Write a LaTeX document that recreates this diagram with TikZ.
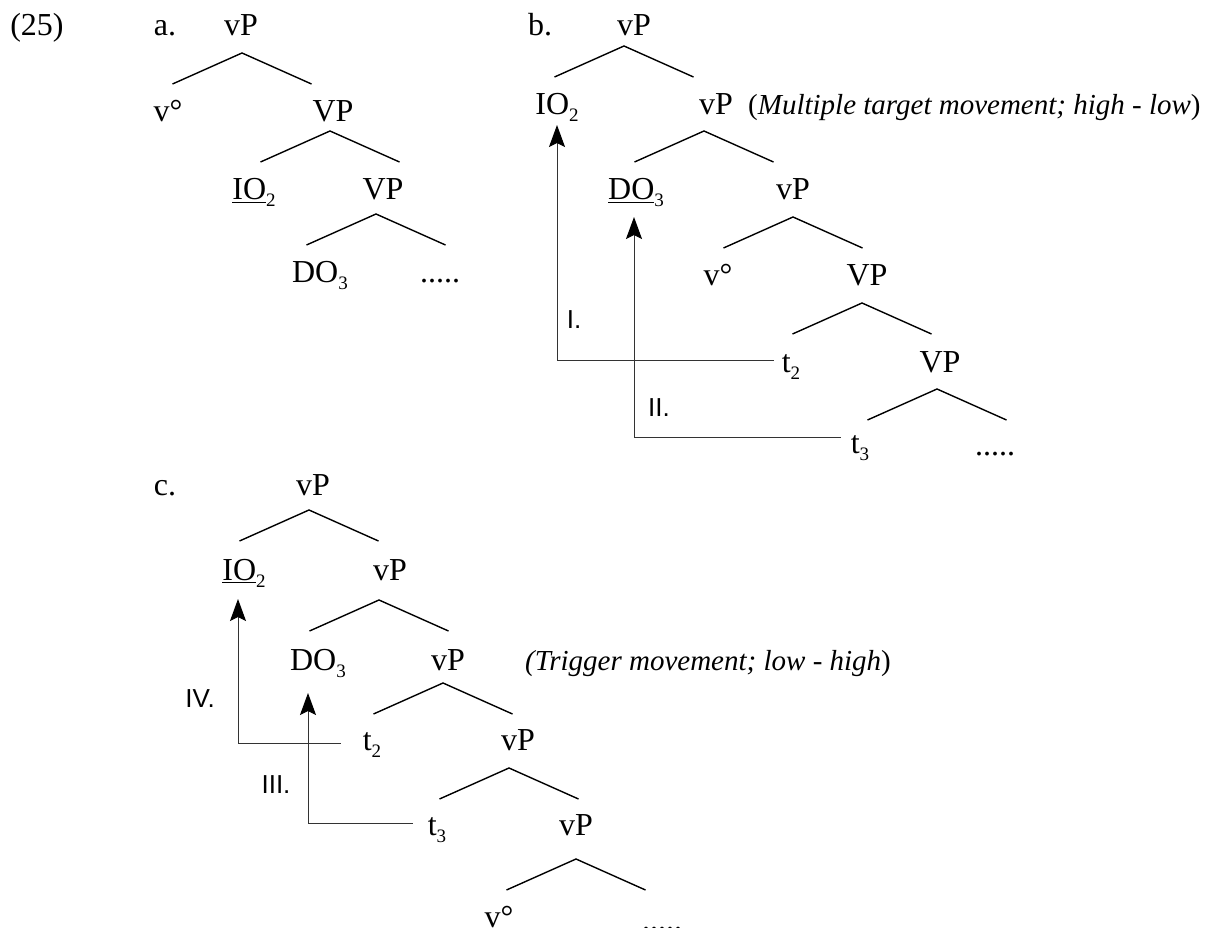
\documentclass[tikz,border=0pt]{standalone}
\usepackage{fontspec}
\setmainfont{Liberation Serif}
\newfontfamily\stepfont{Liberation Sans}
\usetikzlibrary{arrows.meta,calc}

\tikzset{
  lab/.style={anchor=base,inner sep=0pt,font=\fontsize{32}{38}\selectfont},
  note/.style={anchor=base west,inner sep=0pt,font=\fontsize{29}{35}\selectfont},
  movelab/.style={inner sep=0pt,font=\fontsize{26}{30}\selectfont\stepfont},
  branch/.style={line width=1.4pt},
  move/.style={line width=1pt,black!80,-{Stealth[length=22pt,width=16pt,inset=4pt,black]}},
}
\newcommand{\lowsub}[1]{\raisebox{-7pt}{\fontsize{19}{19}\selectfont #1}}

\begin{document}
\begin{tikzpicture}[x=1pt,y=-1pt]
  \useasboundingbox (0,0) rectangle (1225,928);
  \clip (0,0) rectangle (1225,928);

  % branches of the three trees
  \foreach \n/\x/\y in {a1/242/53,a2/330/131,a3/376/214,
      b1/624/46,b2/704/131,b3/793/217,b4/862/303,b5/937/389,
      c1/309/510,c2/379/600,c3/443/683,c4/509/768,c5/576/859}{
    \coordinate (\n) at (\x,\y);
    \draw[branch] ([shift={(-69.5,31)}]\n) -- (\n) -- ([shift={(69.5,31)}]\n);
  }

  % tree a
  \node[lab] (ex) at (37,36) {(25)};
  \node[lab] (la) at (165,36) {a.};
  \node[lab] (avP) at (241,36) {vP};
  \node[lab] (av) at (168,122) {v°};
  \node[lab] (aVP) at (333,122) {VP};
  \node[lab] (aIO) at (254,200) {\underline{IO}\lowsub{2}};
  \node[lab] (aVPb) at (383,200) {VP};
  \node[lab] (aDO) at (320,282) {DO\lowsub{3}};
  \node[lab] (adots) at (440,282) {.....};

  % tree b
  \node[lab] (lb) at (540,36) {b.};
  \node[lab] (bvP) at (634,36) {vP};
  \node[lab] (bIO) at (557,115) {IO\lowsub{2}};
  \node[lab] (bvPb) at (716,115) {vP};
  \node[note] (bnote) at (748,115) {(\textit{Multiple target movement; high} - \textit{low})};
  \node[lab] (bDO) at (636,200) {\underline{DO}\lowsub{3}};
  \node[lab] (bvPc) at (793,200) {vP};
  \node[lab] (bv) at (718,285) {v°};
  \node[lab] (bVP) at (867,285) {VP};
  \node[lab] (bt2) at (791,372) {t\lowsub{2}};
  \node[lab] (bVPb) at (940,372) {VP};
  \node[lab] (bt3) at (860,453) {t\lowsub{3}};
  \node[lab] (bdots) at (995,455) {.....};

  % movements in b
  \draw[move] ($(bt2.base west)+(-8,-12)$) -| ($(bIO.base)+(0,10)$);
  \draw[move] ($(bt3.base west)+(-10,-16)$) -| ($(bDO.base)+(-2,17)$);
  \node[movelab] (mI) at (574,320) {I.};
  \node[movelab] (mII) at (659,408) {II.};

  % tree c
  \node[lab] (lc) at (165,495) {c.};
  \node[lab] (cvP) at (313,495) {vP};
  \node[lab] (cIO) at (244,580) {\underline{IO}\lowsub{2}};
  \node[lab] (cvPb) at (390,580) {vP};
  \node[lab] (cDO) at (318,670) {DO\lowsub{3}};
  \node[lab] (cvPc) at (448,670) {vP};
  \node[note] (cnote) at (525,670) {\textit{(Trigger movement; low} - \textit{high})};
  \node[lab] (ct2) at (372,750) {t\lowsub{2}};
  \node[lab] (cvPd) at (518,750) {vP};
  \node[lab] (ct3) at (437,835) {t\lowsub{3}};
  \node[lab] (cvPe) at (576,835) {vP};
  \node[lab] (cv) at (499,927) {v°};
  \node[lab] (cdots) at (662,930) {.....};

  % movements in c
  \draw[move] ($(ct2.base west)+(-22,-7)$) -| ($(cIO.base)+(-6,19)$);
  \draw[move] ($(ct3.base west)+(-15,-12)$) -| ($(cDO.base)+(-10,23)$);
  \node[movelab] (mIV) at (200,699) {IV.};
  \node[movelab] (mIII) at (276,785) {III.};
\end{tikzpicture}
\end{document}
